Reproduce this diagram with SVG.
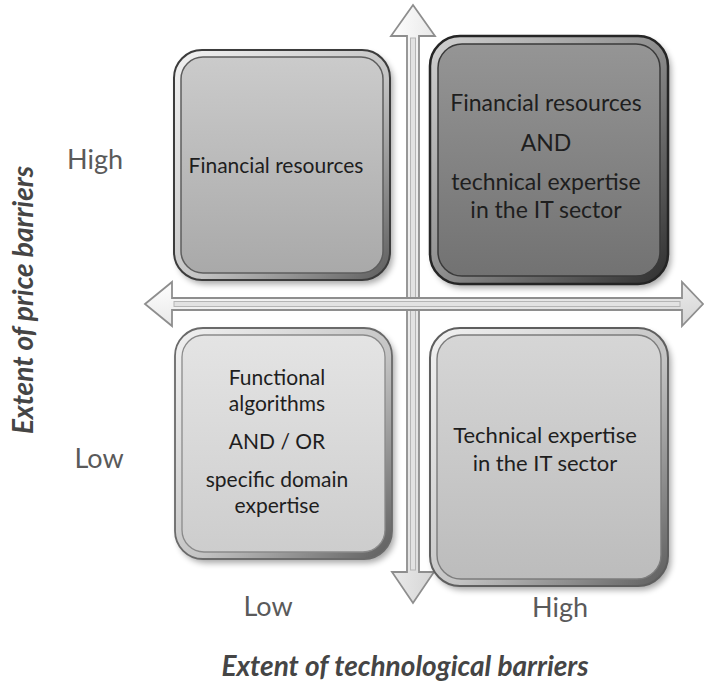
<svg xmlns="http://www.w3.org/2000/svg" width="706" height="692" viewBox="0 0 706 692">
<defs>
<style>
.box-text{font-family:Lato,"Open Sans","Liberation Sans",sans-serif;fill:#1e1e1e;text-anchor:middle}
.tick{font-family:Lato,"Open Sans","Liberation Sans",sans-serif;fill:#5a5a5a;font-size:27px;text-anchor:middle}
.axis-title{font-family:Lato,"Open Sans","Liberation Sans",sans-serif;fill:#454545;font-size:28px;font-weight:bold;font-style:italic;text-anchor:middle}
.arrow-outer{stroke:#8e8e8e;stroke-width:1.8;stroke-linejoin:miter}
.arrow-inner{fill:#e2e2e2;stroke:#b5b5b5;stroke-width:1}
.shadow{fill:#000;opacity:0.35;filter:url(#blur)}
</style>
<filter id="blur" x="-10%" y="-10%" width="120%" height="120%"><feGaussianBlur stdDeviation="3"/></filter>
<linearGradient id="frameLight" x1="0" y1="0" x2="1" y2="1">
<stop offset="0" stop-color="#f2f2f2"/><stop offset="0.55" stop-color="#c4c4c4"/><stop offset="1" stop-color="#5c5c5c"/>
</linearGradient>
<linearGradient id="frameDark" x1="0" y1="0" x2="1" y2="1">
<stop offset="0" stop-color="#d2d2d2"/><stop offset="0.5" stop-color="#8e8e8e"/><stop offset="1" stop-color="#2e2e2e"/>
</linearGradient>
<linearGradient id="fillTL" x1="0" y1="0" x2="0" y2="1">
<stop offset="0" stop-color="#cbcbcb"/><stop offset="1" stop-color="#a9a9a9"/>
</linearGradient>
<linearGradient id="fillTR" x1="0" y1="0" x2="0" y2="1">
<stop offset="0" stop-color="#959595"/><stop offset="1" stop-color="#727272"/>
</linearGradient>
<linearGradient id="fillBL" x1="0" y1="0" x2="0" y2="1">
<stop offset="0" stop-color="#e4e4e4"/><stop offset="1" stop-color="#cdcdcd"/>
</linearGradient>
<linearGradient id="fillBR" x1="0" y1="0" x2="0" y2="1">
<stop offset="0" stop-color="#d6d6d6"/><stop offset="1" stop-color="#bcbcbc"/>
</linearGradient>
<linearGradient id="headGrad" x1="0" y1="0" x2="1" y2="1">
<stop offset="0" stop-color="#ffffff"/><stop offset="1" stop-color="#d4d4d4"/>
</linearGradient>
</defs>
<rect width="706" height="692" fill="#ffffff"/>

<g id="connectors">
<g id="vertical-axis">
<polygon class="arrow-outer" fill="url(#headGrad)" points="413,5 435,36 419,36 419,572 434,572 413,603 392,572 407,572 407,36 391,36"/>
<rect class="arrow-inner" x="410.5" y="38" width="5" height="532"/>
</g>
<g id="horizontal-axis">
<polygon class="arrow-outer" fill="url(#headGrad)" points="145,304 172,282 172,298 682,298 682,282 703,304 682,326 682,310 172,310 172,326"/>
<rect class="arrow-inner" x="174" y="301.5" width="506" height="5"/>
</g>
</g>

<g id="node-tl">
<rect class="shadow" x="177" y="54" width="216" height="230" rx="28"/>
<rect x="174" y="50" width="216" height="230" rx="28" fill="url(#frameLight)" stroke="#3c3c3c" stroke-width="2"/>
<rect x="181" y="57" width="202" height="216" rx="22" fill="url(#fillTL)" stroke="#5e5e5e" stroke-width="1.5"/>
<text class="box-text" x="276" y="173" font-size="21">Financial resources</text>
</g>

<g id="node-tr">
<rect class="shadow" x="433" y="40" width="238" height="248" rx="30"/>
<rect x="430" y="36" width="238" height="248" rx="30" fill="url(#frameDark)" stroke="#252525" stroke-width="2.5"/>
<rect x="438" y="44" width="222" height="232" rx="24" fill="url(#fillTR)" stroke="#3a3a3a" stroke-width="1.5"/>
<text class="box-text" font-size="23" x="546" y="111">Financial resources</text>
<text class="box-text" font-size="23" x="546" y="151">AND</text>
<text class="box-text" font-size="23" x="546" y="190">technical expertise</text>
<text class="box-text" font-size="23" x="546" y="218">in the IT sector</text>
</g>

<g id="node-bl">
<rect class="shadow" x="178" y="332" width="217" height="231" rx="28"/>
<rect x="175" y="328" width="217" height="231" rx="28" fill="url(#frameLight)" stroke="#6a6a6a" stroke-width="1.8"/>
<rect x="182" y="335" width="203" height="217" rx="22" fill="url(#fillBL)" stroke="#8a8a8a" stroke-width="1.3"/>
<text class="box-text" font-size="21" x="277" y="385">Functional</text>
<text class="box-text" font-size="21" x="277" y="411">algorithms</text>
<text class="box-text" font-size="21" x="277" y="449">AND / OR</text>
<text class="box-text" font-size="21" x="277" y="487">specific domain</text>
<text class="box-text" font-size="21" x="277" y="513">expertise</text>
</g>

<g id="node-br">
<rect class="shadow" x="433" y="332" width="238" height="258" rx="30"/>
<rect x="430" y="328" width="238" height="258" rx="30" fill="url(#frameLight)" stroke="#5e5e5e" stroke-width="2"/>
<rect x="437" y="335" width="224" height="244" rx="24" fill="url(#fillBR)" stroke="#7c7c7c" stroke-width="1.4"/>
<text class="box-text" font-size="22" x="545" y="443">Technical expertise</text>
<text class="box-text" font-size="22" x="545" y="471">in the IT sector</text>
</g>

<g id="labels">
<text class="tick" x="95" y="169">High</text>
<text class="tick" x="99" y="468">Low</text>
<text class="tick" x="268" y="616">Low</text>
<text class="tick" x="560" y="617">High</text>
<text class="axis-title" transform="translate(33,300) rotate(-90)">Extent of price barriers</text>
<text class="axis-title" x="405" y="676">Extent of technological barriers</text>
</g>
</svg>
